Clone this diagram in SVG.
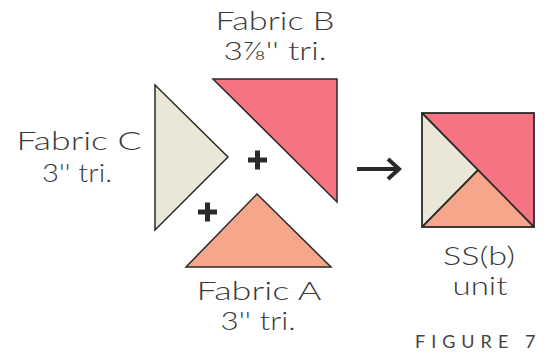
<svg xmlns="http://www.w3.org/2000/svg" width="554" height="353" viewBox="0 0 554 353">
<style>
.lbl{font-family:"Lato","Liberation Sans",sans-serif;font-weight:300;font-size:26px;fill:#3a3a3a;text-anchor:middle}
.pc{stroke:#2a2a2a;stroke-width:1.5;stroke-linejoin:miter}
.plus{fill:#2a2a2a}
.fig{font-family:"Lato","Liberation Sans",sans-serif;font-size:18px;fill:#444;letter-spacing:6px}
</style>
<rect width="554" height="353" fill="#ffffff"/>
<g id="fabricB">
<polygon class="pc" points="213,79 337,79 337,202" fill="#f57382"/>
<text class="lbl" x="275" y="30" textLength="119" lengthAdjust="spacingAndGlyphs">Fabric B</text>
<text class="lbl" x="275" y="60" textLength="103" lengthAdjust="spacingAndGlyphs">3⅞'' tri.</text>
</g>
<g id="fabricC">
<polygon class="pc" points="155,85 228,157 155,230" fill="#ebe7d7"/>
<text class="lbl" x="79" y="150" textLength="125" lengthAdjust="spacingAndGlyphs">Fabric C</text>
<text class="lbl" x="77" y="182" textLength="70" lengthAdjust="spacingAndGlyphs">3'' tri.</text>
</g>
<g id="fabricA">
<polygon class="pc" points="257,194 331,267 186,267" fill="#f6a68b"/>
<text class="lbl" x="259" y="300" textLength="125" lengthAdjust="spacingAndGlyphs">Fabric A</text>
<text class="lbl" x="258" y="330" textLength="75" lengthAdjust="spacingAndGlyphs">3'' tri.</text>
</g>
<g id="plus1">
<rect class="plus" x="248" y="157.5" width="19" height="5"/>
<rect class="plus" x="255" y="150.5" width="5" height="19"/>
</g>
<g id="plus2">
<rect class="plus" x="198" y="209.5" width="19" height="5"/>
<rect class="plus" x="205" y="202.5" width="5" height="19"/>
</g>
<g id="connectors">
<line x1="357" y1="169" x2="398" y2="169" stroke="#2a2a2a" stroke-width="4"/>
<polyline points="388,159 399,169 388,179" fill="none" stroke="#2a2a2a" stroke-width="4" stroke-linejoin="miter"/>
</g>
<g id="unit">
<polygon points="422,113 534,113 534,227" fill="#f57382"/>
<polygon points="422,113 478,170 422,227" fill="#ebe7d7"/>
<polygon points="478,170 534,227 422,227" fill="#f6a68b"/>
<rect x="422" y="113" width="112" height="114" fill="none" stroke="#2a2a2a" stroke-width="1.8"/>
<line x1="422" y1="113" x2="534" y2="227" stroke="#2a2a2a" stroke-width="1.8"/>
<line x1="478" y1="170" x2="422" y2="227" stroke="#2a2a2a" stroke-width="1.8"/>
<text class="lbl" x="479" y="265" textLength="72" lengthAdjust="spacingAndGlyphs">SS(b)</text>
<text class="lbl" x="480" y="295" textLength="55" lengthAdjust="spacingAndGlyphs">unit</text>
</g>
<text class="fig" x="415" y="348">FIGURE 7</text>
</svg>
